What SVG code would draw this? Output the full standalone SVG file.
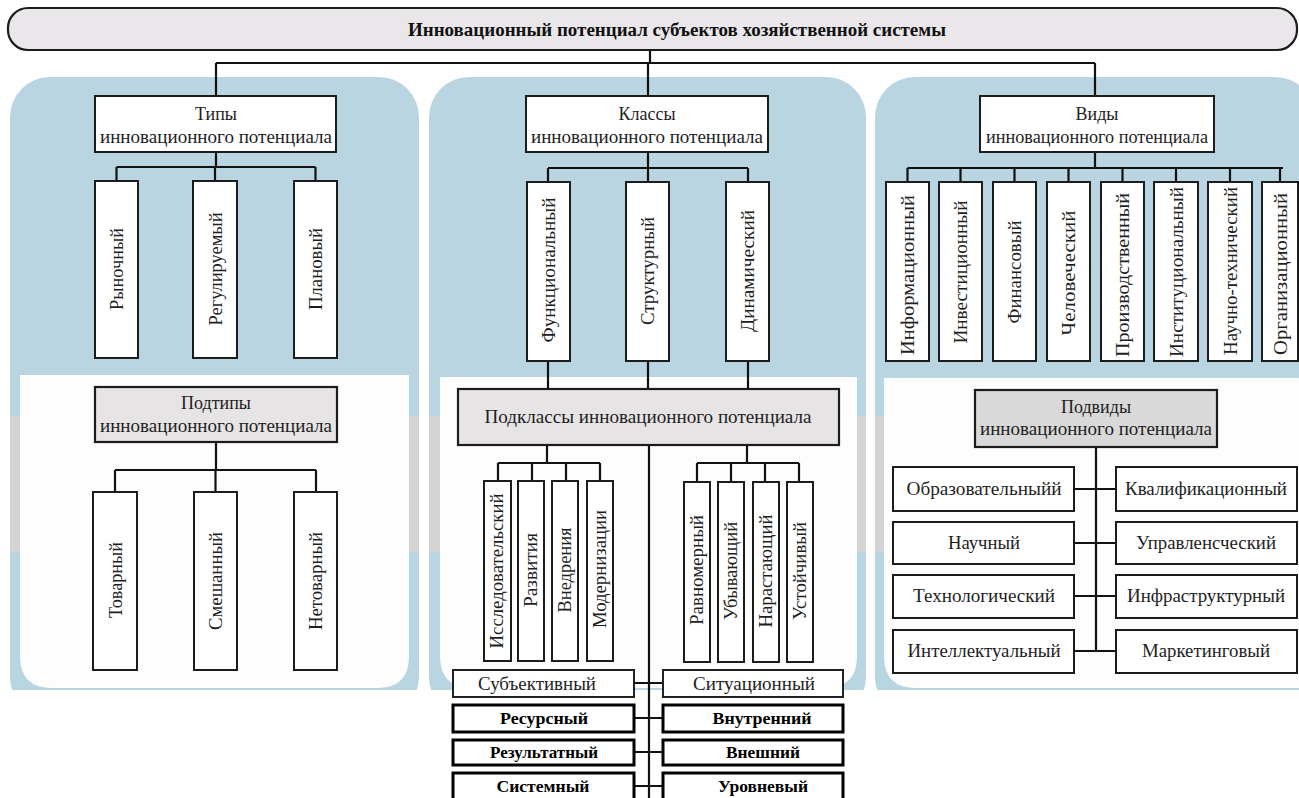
<svg xmlns="http://www.w3.org/2000/svg" width="1299" height="798" viewBox="0 0 1299 798">
  <style>
    .panel { fill: #b9d5e1; }
    .band { fill: #d4d4d4; }
    .inner { fill: #fdfdfd; }
    .box { fill: #ffffff; stroke: #1c1c1c; stroke-width: 2; }
    .sub { fill: #e6e4e5; stroke: #1c1c1c; stroke-width: 2.2; }
    .subd { fill: #d9d9d9; stroke: #1c1c1c; stroke-width: 2.2; }
    .bold { fill: #ffffff; stroke: #000000; stroke-width: 3; }
    .ln { fill: none; stroke: #111111; stroke-width: 2.2; }
    .t { font-family: "Liberation Serif", "DejaVu Serif", "Times New Roman", serif; font-size: 18px; fill: #1e1e1e; text-anchor: middle; }
    .v { font-size: 19px; }
    .tb { font-family: "Liberation Serif", "DejaVu Serif", "Times New Roman", serif; font-size: 17px; font-weight: bold; fill: #000000; text-anchor: middle; }
    .title { font-family: "Liberation Serif", "DejaVu Serif", "Times New Roman", serif; font-size: 18px; font-weight: bold; fill: #111111; text-anchor: middle; }
  </style>

  <rect x="0" y="0" width="1299" height="798" fill="#ffffff"/>

  <!-- Background panels with grey band and white lower areas -->
  <g id="panels">
    <rect class="panel" x="10" y="77" width="409" height="640" rx="40"/>
    <rect class="panel" x="429" y="77" width="437" height="640" rx="40"/>
    <rect class="panel" x="875" y="77" width="440" height="640" rx="40"/>
    <rect class="band" x="10" y="416" width="409" height="136"/>
    <rect class="band" x="429" y="416" width="437" height="136"/>
    <rect class="band" x="875" y="416" width="440" height="136"/>
    <path class="inner" d="M20,375 H409 V656 Q409,688 377,688 H52 Q20,688 20,656 Z"/>
    <path class="inner" d="M440,377 H857 V656 Q857,688 825,688 H472 Q440,688 440,656 Z"/>
    <path class="inner" d="M884,378 H1310 V688 H916 Q884,688 884,656 Z"/>
    <rect x="0" y="690" width="1299" height="108" fill="#ffffff"/>
  </g>

  <!-- Connectors -->
  <g id="connectors">
    <path class="ln" d="M650,50 V63 M216,63 H1095 M216,63 V96 M648,63 V96 M1095,63 V96"/>
    <!-- types -->
    <path class="ln" d="M216,152 V167 M116.5,167 H315.5 M116.5,167 V181 M215,167 V181 M315.5,167 V181"/>
    <path class="ln" d="M216,442 V470 M115,470 H316 M115,470 V492 M215.5,470 V492 M316,470 V492"/>
    <!-- classes -->
    <path class="ln" d="M648,152 V168 M548,168 H748 M548,168 V182 M648,168 V182 M748,168 V182"/>
    <path class="ln" d="M548,361 V389 M648,361 V389 M748,361 V389"/>
    <path class="ln" d="M547,445 V463 M498,463 H600 M498,463 V481 M532,463 V481 M566,463 V481 M600,463 V481"/>
    <path class="ln" d="M747,445 V463 M697,463 H799 M697,463 V482 M731,463 V482 M765,463 V482 M799,463 V482"/>
    <path class="ln" d="M649,445 V798"/>
    <path class="ln" d="M634,683 H663 M634,718 H663 M634,752 H663 M634,786 H663"/>
    <!-- kinds -->
    <path class="ln" d="M1095,152 V168 M907.5,168 H1283 M907.5,168 V182 M960.5,168 V182 M1014.5,168 V182 M1068.5,168 V182 M1122.5,168 V182 M1176,168 V182 M1230,168 V182 M1280,168 V182"/>
    <path class="ln" d="M1096,447 V651 M1074,489 H1116 M1074,543 H1116 M1074,596 H1116 M1074,651 H1116"/>
  </g>

  <g id="title">
    <rect x="8" y="8" width="1289" height="42" rx="20" fill="#e9e7ea" stroke="#1c1c1c" stroke-width="2.2"/>
    <text class="title" x="677" y="36" textLength="538" lengthAdjust="spacingAndGlyphs">Инновационный потенциал субъектов хозяйственной системы</text>
  </g>

  <!-- Types -->
  <g id="types">
    <rect class="box" x="95" y="96" width="241" height="56"/>
    <text class="t" x="216" y="120">Типы</text>
    <text class="t" x="216" y="143" textLength="232" lengthAdjust="spacingAndGlyphs">инновационного потенциала</text>
  </g>
  <g id="type-market">
    <rect class="box" x="95" y="181" width="43" height="177"/>
    <text class="t v" transform="translate(123,269) rotate(-90)" x="0" y="0" textLength="82" lengthAdjust="spacingAndGlyphs">Рыночный</text>
  </g>
  <g id="type-regulated">
    <rect class="box" x="193" y="181" width="44" height="177"/>
    <text class="t v" transform="translate(222,269) rotate(-90)" x="0" y="0" textLength="113" lengthAdjust="spacingAndGlyphs">Регулируемый</text>
  </g>
  <g id="type-planned">
    <rect class="box" x="294" y="181" width="43" height="177"/>
    <text class="t v" transform="translate(322,269) rotate(-90)" x="0" y="0" textLength="82" lengthAdjust="spacingAndGlyphs">Плановый</text>
  </g>

  <g id="subtypes">
    <rect class="sub" x="95" y="387" width="242" height="55"/>
    <text class="t" x="216" y="409">Подтипы</text>
    <text class="t" x="216" y="432" textLength="232" lengthAdjust="spacingAndGlyphs">инновационного потенциала</text>
  </g>
  <g id="subtype-goods">
    <rect class="box" x="93" y="492" width="44" height="178"/>
    <text class="t v" transform="translate(122,580) rotate(-90)" x="0" y="0" textLength="76" lengthAdjust="spacingAndGlyphs">Товарный</text>
  </g>
  <g id="subtype-mixed">
    <rect class="box" x="194" y="492" width="43" height="178"/>
    <text class="t v" transform="translate(222,581) rotate(-90)" x="0" y="0" textLength="98" lengthAdjust="spacingAndGlyphs">Смешанный</text>
  </g>
  <g id="subtype-nongoods">
    <rect class="box" x="294" y="492" width="43" height="178"/>
    <text class="t v" transform="translate(322,581) rotate(-90)" x="0" y="0" textLength="98" lengthAdjust="spacingAndGlyphs">Нетоварный</text>
  </g>

  <!-- Classes -->
  <g id="classes">
    <rect class="box" x="526" y="96" width="242" height="56"/>
    <text class="t" x="647" y="120">Классы</text>
    <text class="t" x="647" y="143" textLength="232" lengthAdjust="spacingAndGlyphs">инновационного потенциала</text>
  </g>
  <g id="class-functional">
    <rect class="box" x="527" y="182" width="43" height="179"/>
    <text class="t v" transform="translate(555,270) rotate(-90)" x="0" y="0" textLength="145" lengthAdjust="spacingAndGlyphs">Функциональный</text>
  </g>
  <g id="class-structural">
    <rect class="box" x="626" y="182" width="43" height="179"/>
    <text class="t v" transform="translate(654,271) rotate(-90)" x="0" y="0" textLength="108" lengthAdjust="spacingAndGlyphs">Структурный</text>
  </g>
  <g id="class-dynamic">
    <rect class="box" x="726" y="182" width="43" height="179"/>
    <text class="t v" transform="translate(754,271) rotate(-90)" x="0" y="0" textLength="122" lengthAdjust="spacingAndGlyphs">Динамический</text>
  </g>

  <g id="subclasses">
    <rect class="sub" x="458" y="389" width="381" height="56"/>
    <text class="t" x="648" y="423" textLength="327" lengthAdjust="spacingAndGlyphs">Подклассы инновационного потенциала</text>
  </g>
  <g id="sc-research">
    <rect class="box" x="484" y="481" width="27" height="180"/>
    <text class="t" transform="translate(503,571) rotate(-90)" x="0" y="0" textLength="155" lengthAdjust="spacingAndGlyphs">Исследовательский</text>
  </g>
  <g id="sc-development">
    <rect class="box" x="518" y="481" width="26" height="180"/>
    <text class="t" transform="translate(537,570) rotate(-90)" x="0" y="0" textLength="74" lengthAdjust="spacingAndGlyphs">Развития</text>
  </g>
  <g id="sc-implementation">
    <rect class="box" x="552" y="481" width="26" height="180"/>
    <text class="t" transform="translate(571,570) rotate(-90)" x="0" y="0" textLength="85" lengthAdjust="spacingAndGlyphs">Внедрения</text>
  </g>
  <g id="sc-modernization">
    <rect class="box" x="587" y="481" width="26" height="180"/>
    <text class="t" transform="translate(606,569) rotate(-90)" x="0" y="0" textLength="118" lengthAdjust="spacingAndGlyphs">Модернизации</text>
  </g>
  <g id="sc-uniform">
    <rect class="box" x="684" y="482" width="26" height="180"/>
    <text class="t" transform="translate(703,570) rotate(-90)" x="0" y="0" textLength="110" lengthAdjust="spacingAndGlyphs">Равномерный</text>
  </g>
  <g id="sc-decreasing">
    <rect class="box" x="718" y="482" width="26" height="180"/>
    <text class="t" transform="translate(737,571) rotate(-90)" x="0" y="0" textLength="98" lengthAdjust="spacingAndGlyphs">Убывающий</text>
  </g>
  <g id="sc-increasing">
    <rect class="box" x="753" y="482" width="26" height="180"/>
    <text class="t" transform="translate(772,571) rotate(-90)" x="0" y="0" textLength="113" lengthAdjust="spacingAndGlyphs">Нарастающий</text>
  </g>
  <g id="sc-stable">
    <rect class="box" x="787" y="482" width="26" height="180"/>
    <text class="t" transform="translate(806,571) rotate(-90)" x="0" y="0" textLength="98" lengthAdjust="spacingAndGlyphs">Устойчивый</text>
  </g>

  <g id="sc-subjective">
    <rect class="box" x="453" y="670" width="181" height="27" style="stroke:#222"/>
    <text class="t" x="537" y="690" textLength="118" lengthAdjust="spacingAndGlyphs">Субъективный</text>
  </g>
  <g id="sc-situational">
    <rect class="box" x="663" y="670" width="180" height="27" style="stroke:#222"/>
    <text class="t" x="754" y="690" textLength="122" lengthAdjust="spacingAndGlyphs">Ситуационный</text>
  </g>
  <g id="sc-resource">
    <rect class="bold" x="453" y="705" width="181" height="27"/>
    <text class="tb" x="544" y="724" textLength="88" lengthAdjust="spacingAndGlyphs">Ресурсный</text>
  </g>
  <g id="sc-internal">
    <rect class="bold" x="663" y="705" width="180" height="27"/>
    <text class="tb" x="762" y="724" textLength="99" lengthAdjust="spacingAndGlyphs">Внутренний</text>
  </g>
  <g id="sc-result">
    <rect class="bold" x="453" y="740" width="181" height="25"/>
    <text class="tb" x="544" y="758" textLength="108" lengthAdjust="spacingAndGlyphs">Результатный</text>
  </g>
  <g id="sc-external">
    <rect class="bold" x="663" y="740" width="180" height="25"/>
    <text class="tb" x="763" y="758" textLength="74" lengthAdjust="spacingAndGlyphs">Внешний</text>
  </g>
  <g id="sc-systemic">
    <rect class="bold" x="453" y="773" width="181" height="30"/>
    <text class="tb" x="543" y="792" textLength="93" lengthAdjust="spacingAndGlyphs">Системный</text>
  </g>
  <g id="sc-level">
    <rect class="bold" x="663" y="773" width="180" height="30"/>
    <text class="tb" x="763" y="792" textLength="90" lengthAdjust="spacingAndGlyphs">Уровневый</text>
  </g>

  <!-- Kinds -->
  <g id="kinds">
    <rect class="box" x="980" y="96" width="234" height="56"/>
    <text class="t" x="1097" y="120">Виды</text>
    <text class="t" x="1097" y="143" textLength="222" lengthAdjust="spacingAndGlyphs">инновационного потенциала</text>
  </g>
  <g id="kind-information">
    <rect class="box" x="886" y="182" width="43" height="179"/>
    <text class="t v" transform="translate(914,275) rotate(-90)" x="0" y="0" textLength="160" lengthAdjust="spacingAndGlyphs">Информационный</text>
  </g>
  <g id="kind-investment">
    <rect class="box" x="939" y="182" width="43" height="179"/>
    <text class="t v" transform="translate(967,272) rotate(-90)" x="0" y="0" textLength="143" lengthAdjust="spacingAndGlyphs">Инвестиционный</text>
  </g>
  <g id="kind-financial">
    <rect class="box" x="993" y="182" width="43" height="179"/>
    <text class="t v" transform="translate(1021,272) rotate(-90)" x="0" y="0" textLength="103" lengthAdjust="spacingAndGlyphs">Финансовый</text>
  </g>
  <g id="kind-human">
    <rect class="box" x="1047" y="182" width="43" height="179"/>
    <text class="t v" transform="translate(1075,273) rotate(-90)" x="0" y="0" textLength="125" lengthAdjust="spacingAndGlyphs">Человеческий</text>
  </g>
  <g id="kind-production">
    <rect class="box" x="1101" y="182" width="43" height="179"/>
    <text class="t v" transform="translate(1129,275) rotate(-90)" x="0" y="0" textLength="164" lengthAdjust="spacingAndGlyphs">Производственный</text>
  </g>
  <g id="kind-institutional">
    <rect class="box" x="1154" y="182" width="44" height="179"/>
    <text class="t v" transform="translate(1183,272) rotate(-90)" x="0" y="0" textLength="170" lengthAdjust="spacingAndGlyphs">Институциональный</text>
  </g>
  <g id="kind-scitech">
    <rect class="box" x="1208" y="182" width="44" height="179"/>
    <text class="t v" transform="translate(1237,271) rotate(-90)" x="0" y="0" textLength="168" lengthAdjust="spacingAndGlyphs">Научно-технический</text>
  </g>
  <g id="kind-organizational">
    <rect class="box" x="1262" y="182" width="36" height="179"/>
    <text class="t v" transform="translate(1287,274) rotate(-90)" x="0" y="0" textLength="162" lengthAdjust="spacingAndGlyphs">Организационный</text>
  </g>

  <g id="subkinds">
    <rect class="subd" x="975" y="390" width="242" height="57"/>
    <text class="t" x="1096" y="413">Подвиды</text>
    <text class="t" x="1096" y="435" textLength="232" lengthAdjust="spacingAndGlyphs">инновационного потенциала</text>
  </g>
  <g id="sk-educational">
    <rect class="box" x="893" y="467" width="181" height="44"/>
    <text class="t" x="984" y="495" textLength="155" lengthAdjust="spacingAndGlyphs">Образовательныйй</text>
  </g>
  <g id="sk-qualification">
    <rect class="box" x="1116" y="467" width="181" height="44"/>
    <text class="t" x="1206" y="495" textLength="162" lengthAdjust="spacingAndGlyphs">Квалификационный</text>
  </g>
  <g id="sk-scientific">
    <rect class="box" x="893" y="522" width="181" height="42"/>
    <text class="t" x="984" y="549" textLength="72" lengthAdjust="spacingAndGlyphs">Научный</text>
  </g>
  <g id="sk-managerial">
    <rect class="box" x="1116" y="522" width="181" height="42"/>
    <text class="t" x="1206" y="549" textLength="140" lengthAdjust="spacingAndGlyphs">Управленсческий</text>
  </g>
  <g id="sk-technological">
    <rect class="box" x="893" y="575" width="181" height="43"/>
    <text class="t" x="984" y="602" textLength="142" lengthAdjust="spacingAndGlyphs">Технологический</text>
  </g>
  <g id="sk-infrastructure">
    <rect class="box" x="1116" y="575" width="181" height="43"/>
    <text class="t" x="1206" y="602" textLength="158" lengthAdjust="spacingAndGlyphs">Инфраструктурный</text>
  </g>
  <g id="sk-intellectual">
    <rect class="box" x="893" y="630" width="181" height="43"/>
    <text class="t" x="984" y="657" textLength="153" lengthAdjust="spacingAndGlyphs">Интеллектуальный</text>
  </g>
  <g id="sk-marketing">
    <rect class="box" x="1116" y="630" width="181" height="43"/>
    <text class="t" x="1206" y="657" textLength="128" lengthAdjust="spacingAndGlyphs">Маркетинговый</text>
  </g>
</svg>
